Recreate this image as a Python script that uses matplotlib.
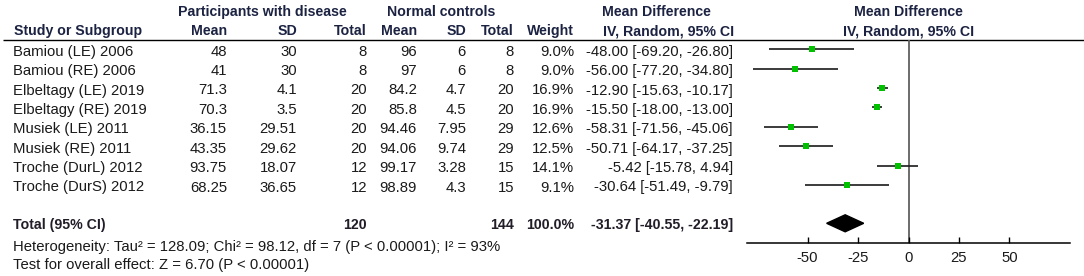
import matplotlib
matplotlib.use("Agg")
import matplotlib.pyplot as plt
from matplotlib.patches import Polygon

# ---------------- data ----------------
studies = ["Bamiou (LE) 2006", "Bamiou (RE) 2006", "Elbeltagy (LE) 2019", "Elbeltagy (RE) 2019",
           "Musiek (LE) 2011", "Musiek (RE) 2011", "Troche (DurL) 2012", "Troche (DurS) 2012"]
dis_mean = ["48", "41", "71.3", "70.3", "36.15", "43.35", "93.75", "68.25"]
dis_sd = ["30", "30", "4.1", "3.5", "29.51", "29.62", "18.07", "36.65"]
dis_n = [8, 8, 20, 20, 20, 20, 12, 12]
ctl_mean = ["96", "97", "84.2", "85.8", "94.46", "94.06", "99.17", "98.89"]
ctl_sd = ["6", "6", "4.7", "4.5", "7.95", "9.74", "3.28", "4.3"]
ctl_n = [8, 8, 20, 20, 29, 29, 15, 15]
weights = [9.0, 9.0, 16.9, 16.9, 12.6, 12.5, 14.1, 9.1]
md = [-48.00, -56.00, -12.90, -15.50, -58.31, -50.71, -5.42, -30.64]
lo = [-69.20, -77.20, -15.63, -18.00, -71.56, -64.17, -15.78, -51.49]
hi = [-26.80, -34.80, -10.17, -13.00, -45.06, -37.25, 4.94, -9.79]
total_md, total_lo, total_hi = -31.37, -40.55, -22.19
total_dis_n, total_ctl_n, total_weight = 120, 144, 100.0
xticks = [-50, -25, 0, 25, 50]
heterogeneity = "Heterogeneity: Tau\u00b2 = 128.09; Chi\u00b2 = 98.12, df = 7 (P < 0.00001); I\u00b2 = 93%"
overall = "Test for overall effect: Z = 6.70 (P < 0.00001)"

# ---------------- layout ----------------
W, H = 1084, 276
plt.rcParams['font.family'] = ['Liberation Sans', 'DejaVu Sans']
fig = plt.figure(figsize=(W / 100, H / 100), dpi=100)
fig.patch.set_facecolor("white")

tab = fig.add_axes([0, 0, 1, 1])
tab.set_xlim(0, W)
tab.set_ylim(H, 0)
tab.axis("off")

FS = 10.7   # regular text
FB = 10.2   # bold text
hdr_col = "#1c2342"
txt_col = "#1a1a1a"
tot_col = "#221d28"

row0, dy = 51.7, 19.4

# headers
tab.text(262, 11.7, "Participants with disease", ha="center", va="center", fontsize=FB, fontweight="bold", color=hdr_col)
tab.text(441, 11.7, "Normal controls", ha="center", va="center", fontsize=FB, fontweight="bold", color=hdr_col)
tab.text(656, 11.7, "Mean Difference", ha="center", va="center", fontsize=FB, fontweight="bold", color=hdr_col)
tab.text(669, 31, "IV, Random, 95% CI", ha="center", va="center", fontsize=FB, fontweight="bold", color=hdr_col)
tab.text(908.5, 11.7, "Mean Difference", ha="center", va="center", fontsize=FB, fontweight="bold", color=hdr_col)
tab.text(908.5, 31, "IV, Random, 95% CI", ha="center", va="center", fontsize=FB, fontweight="bold", color=hdr_col)
tab.text(14, 31, "Study or Subgroup", ha="left", va="center", fontsize=FB, fontweight="bold", color=hdr_col)
col_right = [227, 297, 367, 417, 466, 514, 574]
for x, lab in zip(col_right, ["Mean", "SD", "Total", "Mean", "SD", "Total", "Weight"]):
    tab.text(x, 31, lab, ha="right", va="center", fontsize=FB, fontweight="bold", color=hdr_col)

tab.plot([3, W], [40, 40], color="black", lw=1.0, solid_capstyle="butt")

# rows
for i, s in enumerate(studies):
    y = row0 + dy * i
    tab.text(13, y, s, ha="left", va="center", fontsize=FS, color=txt_col)
    vals = [dis_mean[i], dis_sd[i], str(dis_n[i]), ctl_mean[i], ctl_sd[i], str(ctl_n[i]),
            f"{weights[i]:.1f}%"]
    for x, v in zip(col_right, vals):
        tab.text(x, y, v, ha="right", va="center", fontsize=FS, color=txt_col)
    tab.text(733, y, f"{md[i]:.2f} [{lo[i]:.2f}, {hi[i]:.2f}]", ha="right", va="center",
             fontsize=FS, color=txt_col)

yt = 225
tab.text(13, yt, "Total (95% CI)", ha="left", va="center", fontsize=FB, fontweight="bold", color=tot_col)
tab.text(367, yt, str(total_dis_n), ha="right", va="center", fontsize=FB, fontweight="bold", color=tot_col)
tab.text(514, yt, str(total_ctl_n), ha="right", va="center", fontsize=FB, fontweight="bold", color=tot_col)
tab.text(574, yt, f"{total_weight:.1f}%", ha="right", va="center", fontsize=FB, fontweight="bold", color=tot_col)
tab.text(733, yt, f"{total_md:.2f} [{total_lo:.2f}, {total_hi:.2f}]", ha="right", va="center",
         fontsize=FB, fontweight="bold", color=tot_col)
tab.text(13, 246.7, heterogeneity, ha="left", va="center", fontsize=FS, color=txt_col)
tab.text(13, 265, overall, ha="left", va="center", fontsize=FS, color=txt_col)

# ---------------- forest axes ----------------
x0_px, x1_px = 747, 1070
top_px, bot_px = 40, 243
fax = fig.add_axes([x0_px / W, (H - bot_px) / H, (x1_px - x0_px) / W, (bot_px - top_px) / H])
fax.set_xlim(-80, 80)
line0, rdy = 49.3, 19.4
fax.set_ylim((bot_px - line0) / rdy, (top_px - line0) / rdy)
fax.patch.set_alpha(0)
for sp in ["top", "left", "right"]:
    fax.spines[sp].set_visible(False)
fax.spines["bottom"].set_linewidth(1.1)
fax.spines["bottom"].set_color("black")
fax.set_yticks([])
fax.set_xticks(xticks)
fax.set_xticklabels([str(t) for t in xticks], fontsize=FS, color=txt_col)
fax.tick_params(axis="x", direction="in", length=4, width=1.0, pad=6, color="black")

fax.axvline(0, color="#606060", lw=1.3, zorder=1)
for i in range(len(studies)):
    fax.plot([lo[i], hi[i]], [i, i], color="#1a1a1a", lw=1.2, zorder=2, solid_capstyle="butt")
    size_px = 1.68 * weights[i] ** 0.5
    fax.plot(md[i], i, marker="s", ms=size_px * 0.72, color="#00c000", mec="#00c000", mew=0, zorder=3)

ytot = (223.3 - line0) / rdy
hh = 8.5 / rdy
fax.add_patch(Polygon([[total_lo, ytot], [total_md, ytot - hh], [total_hi, ytot], [total_md, ytot + hh]],
                      closed=True, color="black", zorder=3))

fig.savefig("out.png", dpi=100, facecolor="white")
